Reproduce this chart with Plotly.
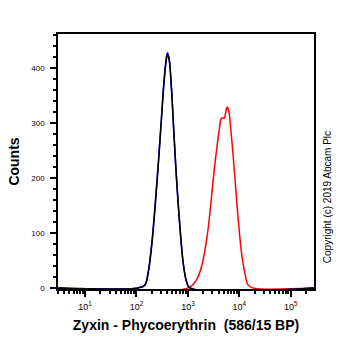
import plotly.graph_objects as go

# log10 fluorescence positions and counts
black_logx = [0.4, 2.035, 2.165, 2.229, 2.295, 2.359, 2.423, 2.489, 2.540, 2.586, 2.606,
              2.637, 2.683, 2.728, 2.781, 2.845, 2.909, 2.975, 3.039, 5.5]
black_counts = [0, 0, 5, 27, 75, 142, 221, 311, 378, 418, 425,
                415, 360, 282, 196, 111, 45, 11, 0, 0]

blue_logx = [0.4, 2.03, 2.16, 2.226, 2.292, 2.356, 2.421, 2.487, 2.538, 2.584, 2.604,
             2.635, 2.681, 2.727, 2.780, 2.844, 2.908, 2.974, 3.04, 5.5]
blue_counts = [0, 0, 5, 28, 76, 143, 222, 312, 380, 421, 428,
               417, 361, 283, 197, 112, 46, 11, 0, 0]

red_logx = [0.4, 3.006, 3.169, 3.266, 3.363, 3.427, 3.491, 3.557, 3.608, 3.654, 3.705,
            3.732, 3.763, 3.796, 3.835, 3.880, 3.932, 3.984, 4.043, 4.107, 4.171, 4.256, 5.5]
red_counts = [0, 0, 15, 39, 87, 136, 196, 251, 287, 309, 309,
              318, 329, 321, 287, 239, 178, 118, 63, 27, 5, 0, 0]

y_tickvals = [0, 100, 200, 300, 400]
x_tickvals = [10, 100, 1000, 10000, 100000]
x_ticktext = ["10<sup>1</sup>", "10<sup>2</sup>", "10<sup>3</sup>", "10<sup>4</sup>", "10<sup>5</sup>"]

def to_lin(vals):
    return [10 ** v for v in vals]

fig = go.Figure()
fig.add_trace(go.Scatter(x=to_lin(red_logx), y=red_counts, mode="lines",
                         line=dict(color="#ff0000", width=1.5), line_shape="spline"))
fig.add_trace(go.Scatter(x=to_lin(blue_logx), y=blue_counts, mode="lines",
                         line=dict(color="#0000ff", width=1.5), line_shape="spline"))
fig.add_trace(go.Scatter(x=to_lin(black_logx), y=black_counts, mode="lines",
                         line=dict(color="#000000", width=1.5), line_shape="spline"))

fig.update_layout(
    width=362, height=351,
    margin=dict(l=58, r=48, t=34, b=62),
    paper_bgcolor="white", plot_bgcolor="white",
    showlegend=False,
    font=dict(family="Liberation Sans, Arial, sans-serif", color="black"),
    xaxis=dict(
        type="log", range=[0.476, 5.45], automargin=False,
        tickvals=x_tickvals, ticktext=x_ticktext,
        ticks="outside", ticklen=6, tickwidth=1.5, tickcolor="black",
        minor=dict(ticks="outside", ticklen=3, tickcolor="black", dtick="D1"),
        showline=True, linecolor="black", linewidth=1.5, mirror=True,
        showgrid=False, zeroline=False,
        tickfont=dict(size=9),
        ticklabelstandoff=2,
        title=dict(text="<b>Zyxin - Phycoerythrin  (586/15 BP)</b>", font=dict(size=14), standoff=10),
    ),
    yaxis=dict(
        range=[-2, 462], automargin=False,
        tickvals=y_tickvals,
        ticks="outside", ticklen=6, tickwidth=1.5, tickcolor="black",
        minor=dict(ticks="outside", ticklen=3, tickcolor="black", dtick=20),
        showline=True, linecolor="black", linewidth=1.5, mirror=True,
        showgrid=False, zeroline=False,
        tickfont=dict(size=8),
        ticklabelstandoff=4,
        title=dict(text="<b>Counts</b>", font=dict(size=14), standoff=8),
    ),
    annotations=[dict(
        text="Copyright (c) 2019 Abcam Plc", textangle=-90,
        xref="paper", yref="paper", x=1.0, y=0.36,
        xshift=13, xanchor="center", yanchor="middle",
        showarrow=False, font=dict(size=10, color="black"),
    )],
)

fig.write_html("out.html")
